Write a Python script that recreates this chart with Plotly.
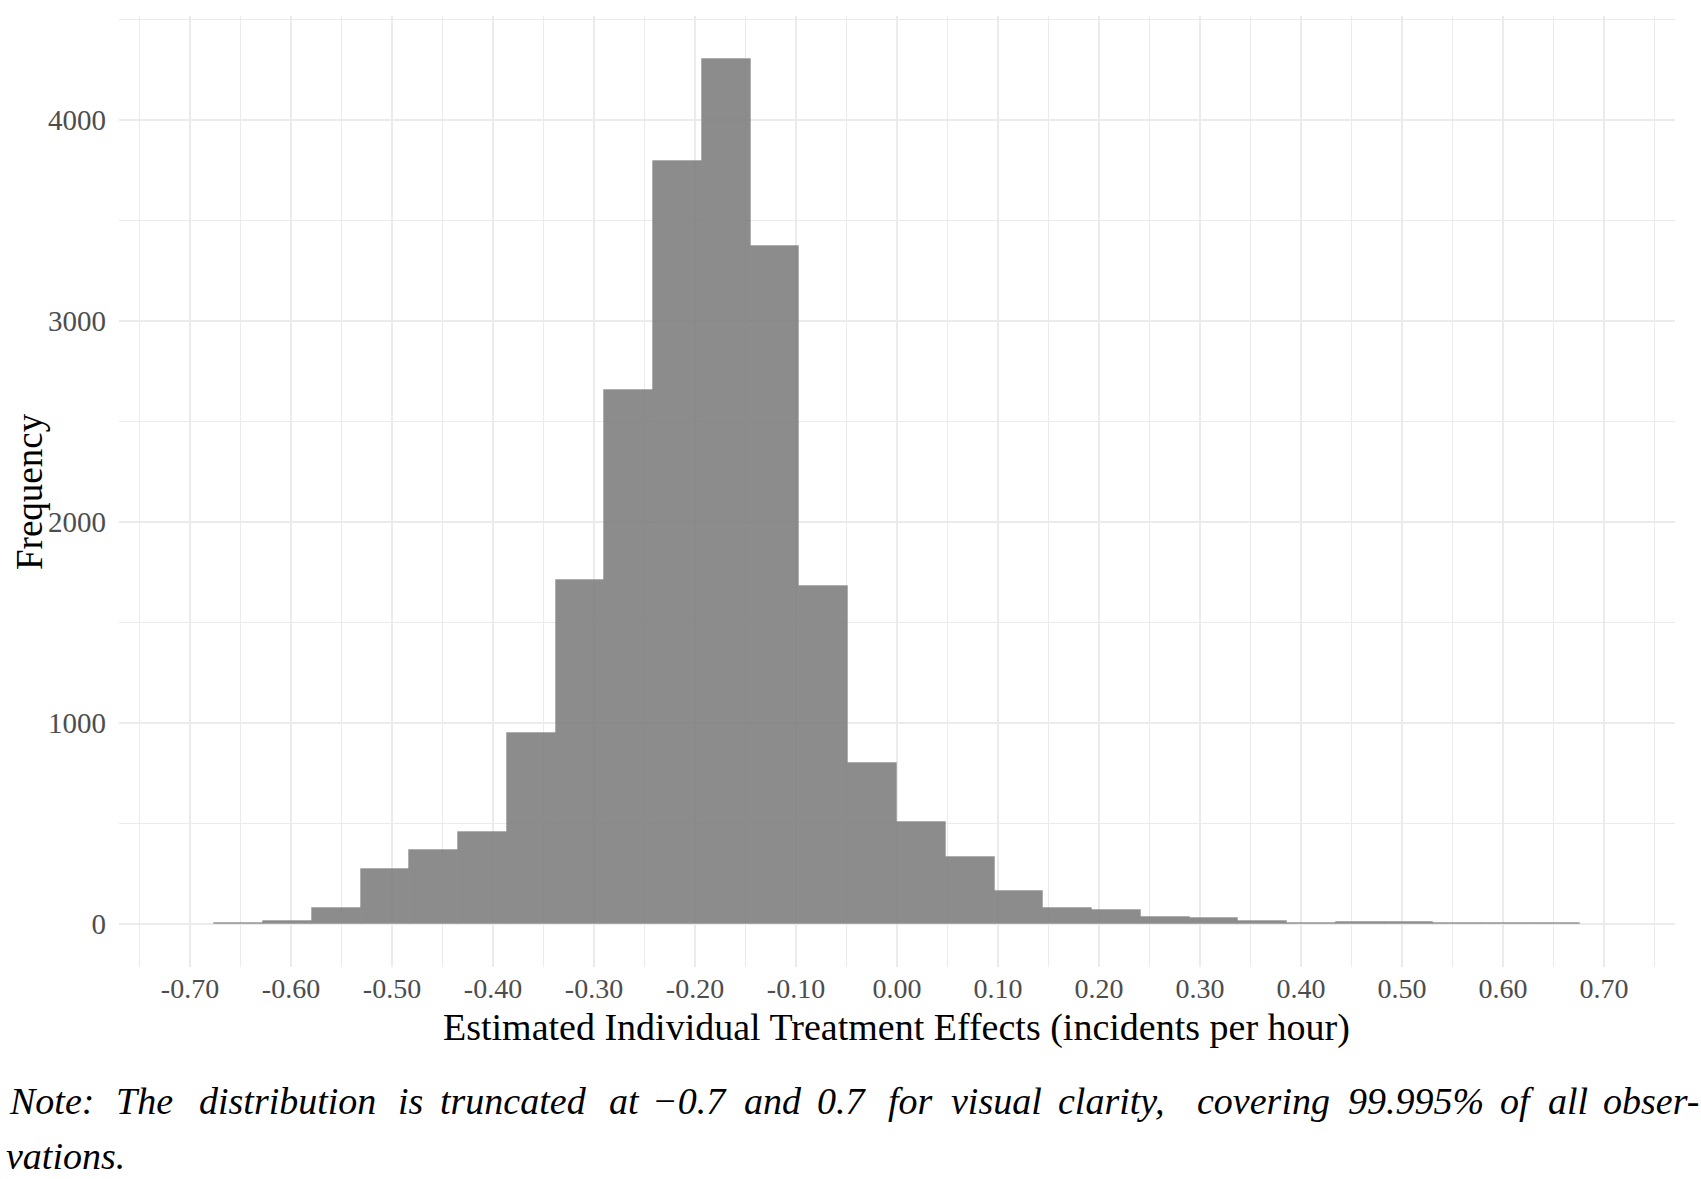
import plotly.graph_objects as go

# ---- data ----
bin_width = 1.4 / 29
bin_index = list(range(1, 29))
bin_centers = [-0.7 + k * bin_width for k in bin_index]
counts = [3, 13, 77, 271, 369, 456, 949, 1709, 2655, 3794, 4302, 3371, 1681, 800,
          508, 333, 161, 78, 68, 35, 28, 15, 4, 8, 7, 6, 5, 3]

x_tick_vals = [-0.7, -0.6, -0.5, -0.4, -0.3, -0.2, -0.1, 0.0, 0.1, 0.2, 0.3, 0.4, 0.5, 0.6, 0.7]
x_tick_text = ["-0.70", "-0.60", "-0.50", "-0.40", "-0.30", "-0.20", "-0.10", "0.00",
               "0.10", "0.20", "0.30", "0.40", "0.50", "0.60", "0.70"]
x_minor_vals = [-0.75, -0.65, -0.55, -0.45, -0.35, -0.25, -0.15, -0.05,
                0.05, 0.15, 0.25, 0.35, 0.45, 0.55, 0.65, 0.75]
y_tick_vals = [0, 1000, 2000, 3000, 4000]
y_minor_vals = [500, 1500, 2500, 3500, 4500]

x_title = "Estimated Individual Treatment Effects (incidents per hour)"
y_title = "Frequency"
note_words = ["Note:", "The", "distribution", "is", "truncated", "at", "\u22120.7", "and",
              "0.7", "for", "visual", "clarity,", "covering", "99.995%", "of", "all", "obser-"]
note_line2 = "vations."

# ---- layout geometry (pixels) ----
W, H = 1701, 1179
L, R, T, B = 119, 26, 16, 212
pw, ph = W - L - R, H - T - B

# justified word centres of the note's first line (pixels)
note_word_px = [51, 144, 287, 410, 513, 624, 689, 773, 842, 910, 996, 1111,
                1263, 1416, 1517, 1568, 1651]


def px(xp):
    return (xp - L) / pw


def py(yp):
    return (H - B - yp) / ph


SERIF = "Liberation Serif, DejaVu Serif, serif"
GRID = "#EBEBEB"

fig = go.Figure()
fig.add_trace(go.Bar(
    x=bin_centers, y=counts, width=[bin_width] * len(counts),
    marker=dict(color="rgba(127,127,127,0.9)",
                line=dict(color="rgba(100,100,100,0.22)", width=1)),
    hoverinfo="x+y", showlegend=False,
))

fig.update_layout(
    width=W, height=H,
    margin=dict(l=L, r=R, t=T, b=B, pad=0),
    paper_bgcolor="white", plot_bgcolor="white",
    bargap=0,
    font=dict(family=SERIF, color="#4D4D4D"),
    xaxis=dict(
        range=[-0.7703, 0.7703], tickmode="array", tickvals=x_tick_vals, ticktext=x_tick_text,
        showgrid=True, gridcolor=GRID, gridwidth=1.6, zeroline=False, showline=False,
        ticks="", ticklabelstandoff=2, tickfont=dict(size=28, color="#4D4D4D", family=SERIF),
        minor=dict(tickmode="array", tickvals=x_minor_vals, showgrid=True, gridcolor=GRID, gridwidth=1.0),
    ),
    yaxis=dict(
        range=[-215, 4517], tickmode="array", tickvals=y_tick_vals,
        showgrid=True, gridcolor=GRID, gridwidth=1.6, zeroline=False, showline=False,
        ticks="", ticklabelstandoff=12, tickfont=dict(size=29, color="#4D4D4D", family=SERIF),
        minor=dict(tickmode="array", tickvals=y_minor_vals, showgrid=True, gridcolor=GRID, gridwidth=1.0),
    ),
)

note_font = dict(size=38, color="black", family=SERIF)
annotations = [
    dict(text=x_title, x=px(896), y=py(1027), xref="paper", yref="paper",
         xanchor="center", yanchor="middle", showarrow=False,
         font=dict(size=38, color="black", family=SERIF)),
    dict(text=y_title, x=px(29), y=py(492), xref="paper", yref="paper",
         xanchor="center", yanchor="middle", showarrow=False, textangle=-90,
         font=dict(size=37, color="black", family=SERIF)),
]
for word, cx in zip(note_words, note_word_px):
    annotations.append(dict(text="<i>" + word + "</i>", x=px(cx), y=py(1101),
                            xref="paper", yref="paper", xanchor="center", yanchor="middle",
                            showarrow=False, font=note_font))
annotations.append(dict(text="<i>" + note_line2 + "</i>", x=px(4), y=py(1156),
                        xref="paper", yref="paper", xanchor="left", yanchor="middle",
                        showarrow=False, font=note_font))
fig.update_layout(annotations=annotations)

fig.write_html("out.html")
